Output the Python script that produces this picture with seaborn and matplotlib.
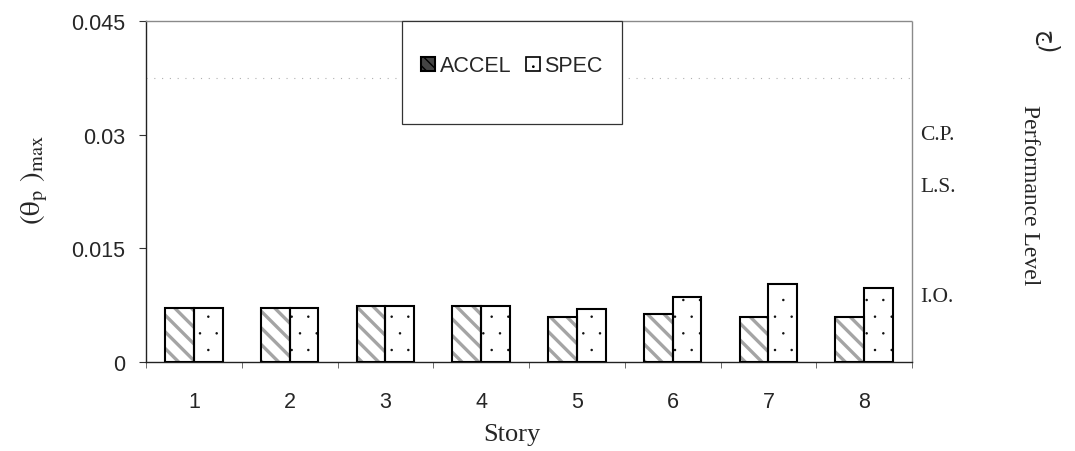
import matplotlib
matplotlib.use("Agg")
import matplotlib.pyplot as plt
import matplotlib.patches as mpatches
import matplotlib.transforms as mtransforms
import matplotlib.hatch as mhatch
import seaborn as sns
import pandas as pd

# Maximum plastic rotation per story for the two analysis methods
stories = ["1", "2", "3", "4", "5", "6", "7", "8"]
accel = [0.0071, 0.0071, 0.00735, 0.00735, 0.0060, 0.0063, 0.0060, 0.0060]
spec = [0.0071, 0.0071, 0.00735, 0.00735, 0.0070, 0.0086, 0.0103, 0.0098]
methods = ["ACCEL", "SPEC"]
y_ticks = [0, 0.015, 0.03, 0.045]
y_tick_labels = ["0", "0.015", "0.03", "0.045"]

# Performance level marks on the right-hand side
level_names = ["C.P.", "L.S.", "I.O."]
level_values = [0.0300, 0.0231, 0.0087]
limit_line = 0.0375

df = pd.DataFrame({
    "Story": stories * 2,
    "Method": [methods[0]] * len(stories) + [methods[1]] * len(stories),
    "theta": accel + spec,
})

sns.set_theme(style="white")
plt.rcParams["font.family"] = ["Liberation Sans", "DejaVu Sans"]
plt.rcParams["mathtext.fontset"] = "stix"
# small stipple dots for the SPEC bars
mhatch.SmallFilledCircles.size = 0.04

W, H = 1075, 452
fig = plt.figure(figsize=(W / 100, H / 100), dpi=100)
ax = fig.add_axes([146 / W, 1 - 363 / H, (912 - 146) / W, (363 - 22) / H])

sns.barplot(data=df, x="Story", y="theta", hue="Method", order=stories,
            hue_order=methods, palette=["white", "white"], width=0.6,
            gap=0, ax=ax, legend=False, zorder=3)

hatches = {0: "\\\\", 1: "."}
hatch_colors = {0: "#a4a4a4", 1: "#111111"}
hatch_widths = {0: 2.4, 1: 0.8}
n = len(stories)
for i, p in enumerate(ax.patches[: 2 * n]):
    k = i // n
    p.set_hatch(hatches[k])
    p.set_edgecolor(hatch_colors[k])
    p.set_linewidth(0)
    if hasattr(p, "set_hatch_linewidth"):
        p.set_hatch_linewidth(hatch_widths[k])
    ax.add_patch(mpatches.Rectangle(p.get_xy(), p.get_width(), p.get_height(),
                                    fill=False, edgecolor="black",
                                    linewidth=1.5, zorder=4))

ax.set_xlim(-0.5, n - 0.5)
ax.set_ylim(0, 0.045)
ax.set_yticks(y_ticks)
ax.set_yticklabels(y_tick_labels, fontsize=15.5)
ax.set_xticks(range(n))
ax.set_xticklabels(stories, fontsize=15.5)
ax.set_xticks([i - 0.5 for i in range(n + 1)], minor=True)
ax.tick_params(axis="x", which="major", length=0, pad=21)
ax.tick_params(axis="x", which="minor", length=4, width=0.6, color="#555555",
               direction="out", bottom=True)
ax.tick_params(axis="y", length=5, width=0.8, color="#333333",
               direction="out", left=True, pad=10)

for side in ["left", "bottom"]:
    ax.spines[side].set_color("#222222")
    ax.spines[side].set_linewidth(1.0)
for side in ["top", "right"]:
    ax.spines[side].set_color("#8a8a8a")
    ax.spines[side].set_linewidth(1.0)
    ax.spines[side].set_linestyle((0, (2, 1)))

ax.axhline(limit_line, color="#b0b0b0", linewidth=0.8,
           linestyle=(0, (1, 6)), zorder=1)

ax.set_xlabel("Story", family="Liberation Serif", fontsize=19)
ax.xaxis.set_label_coords((512 - 146) / 766, -(435 - 363) / 341,
                          transform=ax.transAxes)
ax.xaxis.label.set_va("center")
ax.set_ylabel(r"$\mathrm{(θ_p\ )_{max}}$", fontsize=21)
ax.yaxis.set_label_coords(-(146 - 34) / 766, (363 - 180) / 341)
ax.yaxis.label.set_va("center")

# Frame around the legend, spanning the top-centre of the plot
ax.add_patch(mpatches.Rectangle((256 / 766, (363 - 125) / 341), 220 / 766,
                                103 / 341, transform=ax.transAxes,
                                facecolor="white", edgecolor="#333333",
                                linewidth=0.9, zorder=5, clip_on=False))
handles = [
    mpatches.Patch(facecolor="#444444", edgecolor="black", hatch="\\\\\\",
                   linewidth=1.5),
    mpatches.Patch(facecolor="white", edgecolor="black", hatch=".",
                   linewidth=1.2),
]
leg = ax.legend(handles, methods, loc="center",
                bbox_to_anchor=(366 / 766, (363 - 67) / 341), ncol=2,
                frameon=False, fontsize=15.5, handlelength=0.65,
                handleheight=0.65, handletextpad=0.2, columnspacing=0.7,
                borderpad=0, borderaxespad=0)
leg.set_zorder(6)

trans = mtransforms.blended_transform_factory(ax.transAxes, ax.transData)
for name, val in zip(level_names, level_values):
    ax.text(1.011, val, name, transform=trans, family="Liberation Serif",
            fontsize=15.5, ha="left", va="center")

fig.text(1030 / W, 1 - 195 / H, "Performance Level",
         family="Liberation Serif", fontsize=17, rotation=-90,
         ha="center", va="center")
fig.text(1046 / W, 1 - 42 / H, "ج)", family=["DejaVu Sans"],
         fontsize=17, rotation=-90, ha="center", va="center")

fig.savefig("out.png", dpi=100)
